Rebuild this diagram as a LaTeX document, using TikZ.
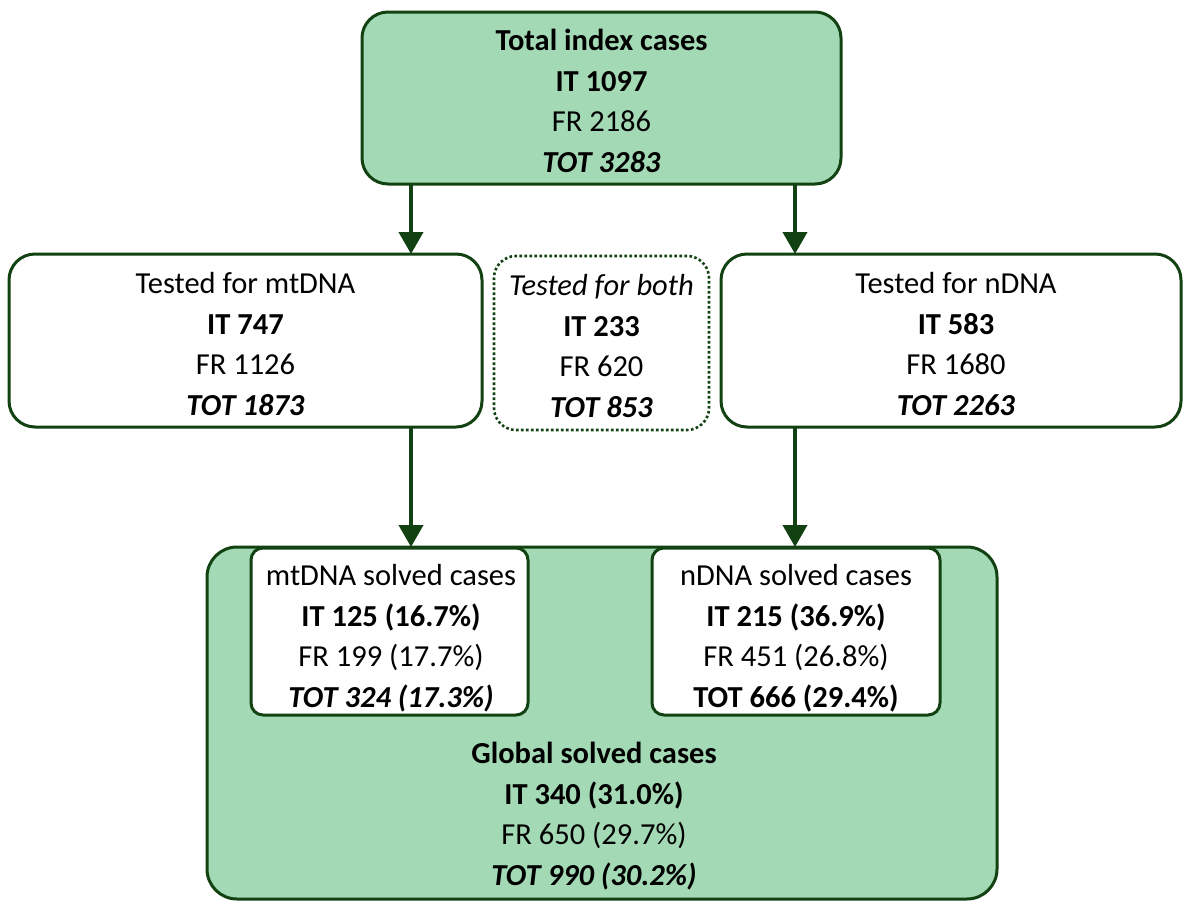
\documentclass[tikz,border=0pt]{standalone}
\usepackage{fontspec}
\setmainfont{Carlito}
\usetikzlibrary{arrows.meta}
\definecolor{boxgreen}{RGB}{163,218,181}
\definecolor{darkgreen}{RGB}{18,66,18}
\tikzset{
  every node/.style={inner sep=0pt, outer sep=0pt},
  gbox/.style={draw=darkgreen, line width=3pt, fill=boxgreen, rounded corners=26pt},
  wbox/.style={draw=darkgreen, line width=3pt, fill=white, rounded corners=26pt},
  sbox/.style={draw=darkgreen, line width=3pt, fill=white, rounded corners=12pt},
  dbox/.style={draw=darkgreen, line width=2.6pt, fill=white, rounded corners=22pt, dash pattern=on 2.6pt off 2.4pt},
  txt/.style={align=center, font=\fontsize{30.5}{40.5}\selectfont, text=black},
  arr/.style={draw=darkgreen, line width=4pt, -{Triangle[width=24pt,length=22pt]}},
}
\begin{document}
\begin{tikzpicture}[x=1pt,y=-1pt]
\useasboundingbox (0,0) rectangle (1184,902);
% boxes
\node[gbox, minimum width=479pt, minimum height=172pt] (top) at (601.5,98) {};
\node[wbox, minimum width=473pt, minimum height=173pt] (mt) at (245.5,340.5) {};
\node[dbox, minimum width=215pt, minimum height=174pt] (both) at (601.5,343) {};
\node[wbox, minimum width=460pt, minimum height=173pt] (nd) at (951,340.5) {};
\node[gbox, rounded corners=30pt, minimum width=790pt, minimum height=352pt] (glob) at (602,723) {};
\node[sbox, minimum width=277pt, minimum height=167pt] (mts) at (389.5,631.5) {};
\node[sbox, minimum width=288pt, minimum height=167pt] (nds) at (796,631.5) {};
% texts
\node[txt] (toptxt) at (601.5,101) {\textbf{Total index cases}\\\textbf{IT 1097}\\FR 2186\\\textbf{\textit{TOT 3283}}};
\node[txt] (mttxt) at (245.5,344) {Tested for mtDNA\\\textbf{IT 747}\\FR 1126\\\textbf{\textit{TOT 1873}}};
\node[txt] (bothtxt) at (601.5,346) {\textit{Tested for both}\\\textbf{IT 233}\\FR 620\\\textbf{\textit{TOT 853}}};
\node[txt] (ndtxt) at (956,344) {Tested for nDNA\\\textbf{IT 583}\\FR 1680\\\textbf{\textit{TOT 2263}}};
\node[txt] (mtstxt) at (391,638) {mtDNA solved cases\\\textbf{IT 125 (16.7\%)}\\FR 199 (17.7\%)\\\textbf{\textit{TOT 324 (17.3\%)}}};
\node[txt] (ndstxt) at (796,638) {nDNA solved cases\\\textbf{IT 215 (36.9\%)}\\FR 451 (26.8\%)\\\textbf{TOT 666 (29.4\%)}};
\node[txt] (globtxt) at (594,816) {\textbf{Global solved cases}\\\textbf{IT 340 (31.0\%)}\\FR 650 (29.7\%)\\\textbf{\textit{TOT 990 (30.2\%)}}};
% arrow columns
\coordinate (cl) at (411,0);
\coordinate (cr) at (795,0);
\draw[arr] (top.south -| cl) -- (mt.north -| cl);
\draw[arr] (top.south -| cr) -- (nd.north -| cr);
\draw[arr] (mt.south -| cl) -- (glob.north -| cl);
\draw[arr] (nd.south -| cr) -- (glob.north -| cr);
\end{tikzpicture}
\end{document}
